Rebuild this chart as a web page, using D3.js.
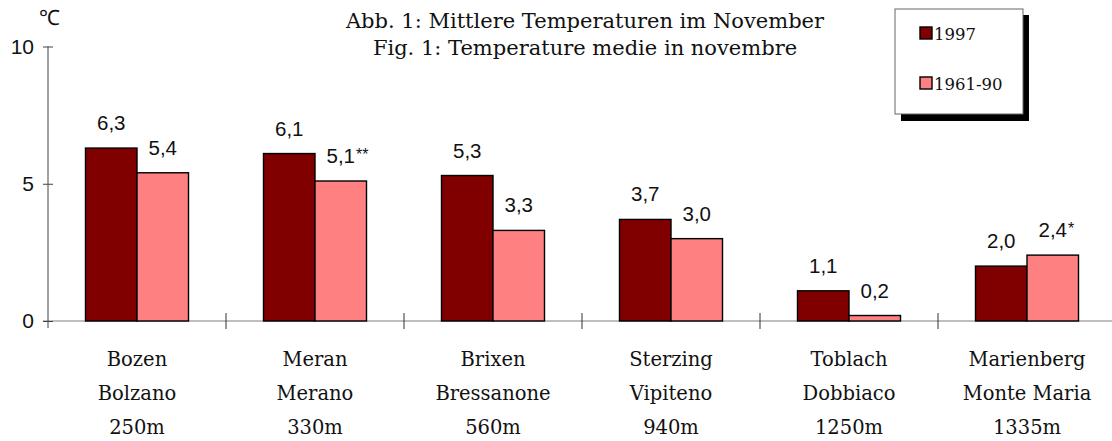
<!DOCTYPE html>
<html>
<head>
<meta charset="utf-8">
<script src="https://cdn.jsdelivr.net/npm/d3@7"></script>
<style>
  html, body { margin: 0; padding: 0; background: #fff; }
  svg { display: block; }
</style>
</head>
<body>
<svg id="chart" width="1112" height="441"></svg>
<script>
// ---------- data ----------
const stationsDe = ["Bozen", "Meran", "Brixen", "Sterzing", "Toblach", "Marienberg"];
const stationsIt = ["Bolzano", "Merano", "Bressanone", "Vipiteno", "Dobbiaco", "Monte Maria"];
const altitudes = ["250m", "330m", "560m", "940m", "1250m", "1335m"];
const seriesNames = ["1997", "1961-90"];
const values1997 = [6.3, 6.1, 5.3, 3.7, 1.1, 2.0];
const values6190 = [5.4, 5.1, 3.3, 3.0, 0.2, 2.4];
const notes1997 = ["", "", "", "", "", ""];
const notes6190 = ["", "**", "", "", "", "*"];
const yTicks = [0, 5, 10];
const titleLines = ["Abb. 1: Mittlere Temperaturen im November", "Fig. 1: Temperature medie in novembre"];
const unitLabel = "\u2103";
const colors = ["#800000", "#ff8080"];

// ---------- layout ----------
const svg = d3.select("#chart");
const left = 48, bandW = 178, yTop = 46.5, yBottom = 321;
const serif = "'DejaVu Serif', serif";
const sans = "'Liberation Sans', Arial, sans-serif";

const x0 = d3.scaleBand().domain(d3.range(stationsDe.length))
  .range([left, left + bandW * stationsDe.length]).paddingInner(0).paddingOuter(0);
const x1 = d3.scaleBand().domain([0, 1]).range([0, x0.bandwidth()]).paddingInner(0).paddingOuter(0.728);
const y = d3.scaleLinear().domain([0, 10]).range([yBottom, yTop]);

const seriesValues = [values1997, values6190];
const seriesNotes = [notes1997, notes6190];
const fmt = v => d3.format(".1f")(v).replace(".", ",");

// ---------- title ----------
svg.append("g").selectAll("text").data(titleLines).join("text")
  .attr("x", 585).attr("y", (d, i) => 28 + i * 27)
  .attr("text-anchor", "middle")
  .attr("font-family", serif).attr("font-size", 21).attr("fill", "#111")
  .text(d => d);

// ---------- unit ----------
svg.append("text").attr("x", 49).attr("y", 25).attr("text-anchor", "middle")
  .attr("font-family", sans).attr("font-size", 21).attr("fill", "#111").text(unitLabel);

// ---------- x axis line & ticks ----------
svg.append("line").attr("x1", 43).attr("x2", 1112).attr("y1", y(0)).attr("y2", y(0))
  .attr("stroke", "#808080").attr("stroke-width", 1.2);

const xBoundaries = d3.range(stationsDe.length + 1).map(i => x0(0) + i * x0.step());
svg.append("g").selectAll("line").data(xBoundaries.slice(1)).join("line")
  .attr("x1", d => d).attr("x2", d => d)
  .attr("y1", y(0) - 8).attr("y2", y(0) + 8)
  .attr("stroke", "#333").attr("stroke-width", 1);

// ---------- bars ----------
const groups = svg.append("g").selectAll("g").data(stationsDe).join("g")
  .attr("transform", (d, i) => `translate(${x0(i)},0)`);

groups.selectAll("rect").data((d, i) => seriesValues.map((vals, s) => ({ s, v: vals[i] }))).join("rect")
  .attr("x", d => x1(d.s)).attr("width", x1.bandwidth())
  .attr("y", d => y(d.v)).attr("height", d => y(0) - y(d.v))
  .attr("fill", d => colors[d.s]).attr("stroke", "#000").attr("stroke-width", 1.4);

// ---------- value labels ----------
groups.each(function (d, i) {
  const g = d3.select(this);
  seriesValues.forEach((vals, s) => {
    const cx = x1(s) + x1.bandwidth() / 2;
    const ty = y(vals[i]) - 18;
    const t = g.append("text").attr("x", cx).attr("y", ty).attr("text-anchor", "middle")
      .attr("font-family", sans).attr("font-size", 20.5).attr("fill", "#111").text(fmt(vals[i]));
    const note = seriesNotes[s][i];
    if (note) {
      const w = t.node().getComputedTextLength();
      g.append("text").attr("x", cx + w / 2 + 1).attr("y", ty - 3)
        .attr("font-family", sans).attr("font-size", 16).attr("fill", "#111").text(note);
    }
  });
});

// ---------- y axis ----------
const yAxis = d3.axisLeft(y).tickValues(yTicks).tickFormat(d3.format("d")).tickSize(5).tickPadding(10);
const yg = svg.append("g").attr("transform", `translate(${left},0)`).call(yAxis);
yg.select(".domain").remove();
yg.selectAll(".tick line").attr("x1", 5).attr("x2", -5).attr("stroke", "#444");
yg.selectAll(".tick text").attr("font-family", sans).attr("font-size", 21).attr("fill", "#111")
  .attr("x", -14);
svg.append("line").attr("x1", left).attr("x2", left).attr("y1", y(10)).attr("y2", y(0) + 7)
  .attr("stroke", "#444").attr("stroke-width", 1);

// ---------- category labels ----------
const catLines = [stationsDe, stationsIt, altitudes];
catLines.forEach((arr, li) => {
  svg.append("g").selectAll("text").data(arr).join("text")
    .attr("x", (d, i) => x0(i) + x0.bandwidth() / 2)
    .attr("y", 366 + li * 34)
    .attr("text-anchor", "middle")
    .attr("font-family", serif).attr("font-size", 19.5).attr("fill", "#111")
    .text(d => d);
});

// ---------- legend ----------
const lg = svg.append("g");
lg.append("rect").attr("x", 901).attr("y", 15).attr("width", 128).attr("height", 106).attr("fill", "#000");
lg.append("rect").attr("x", 895).attr("y", 9).attr("width", 128).attr("height", 105)
  .attr("fill", "#fff").attr("stroke", "#666").attr("stroke-width", 1);
const li = lg.selectAll("g.item").data(seriesNames).join("g").attr("class", "item")
  .attr("transform", (d, i) => `translate(920,${27 + i * 50})`);
li.append("rect").attr("width", 12).attr("height", 12)
  .attr("fill", (d, i) => colors[i]).attr("stroke", "#000").attr("stroke-width", 1.4);
li.append("text").attr("x", 14).attr("y", 12.5)
  .attr("font-family", serif).attr("font-size", 16.5).attr("fill", "#111").text(d => d);
</script>
</body>
</html>
